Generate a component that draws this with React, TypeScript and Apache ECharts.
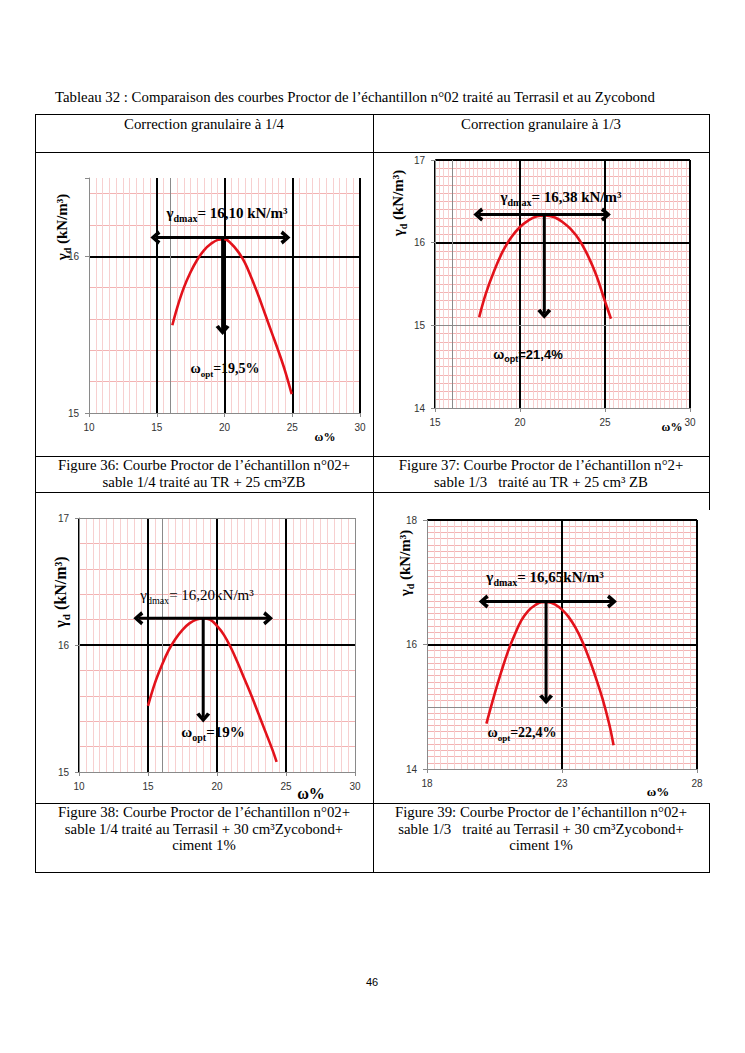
import React, { useEffect, useRef } from "react";
import * as echarts from "echarts";

// ---------- data ----------
const curve1X = [16.15, 16.5, 17, 17.5, 18, 18.5, 19, 19.5, 20, 20.5, 21, 21.5, 22, 22.5, 23, 23.5, 24, 24.5, 24.96];
const curve1Y = [15.56, 15.67, 15.8, 15.9, 15.98, 16.04, 16.08, 16.105, 16.11, 16.08, 16.03, 15.96, 15.86, 15.75, 15.63, 15.51, 15.39, 15.26, 15.12];
const curve2X = [17.6, 18, 18.5, 19, 19.5, 20, 20.5, 21, 21.5, 22, 22.5, 23, 23.5, 24, 24.5, 25, 25.35];
const curve2Y = [15.1, 15.39, 15.67, 15.9, 16.07, 16.19, 16.27, 16.32, 16.33, 16.31, 16.25, 16.16, 16.03, 15.84, 15.6, 15.29, 15.08];
const curve3X = [15, 15.5, 16, 16.5, 17, 17.5, 18, 18.5, 19, 19.5, 20, 20.5, 21, 21.5, 22, 22.5, 23, 23.5, 24, 24.32];
const curve3Y = [15.52, 15.7, 15.84, 15.96, 16.05, 16.12, 16.17, 16.2, 16.21, 16.2, 16.15, 16.08, 15.98, 15.86, 15.73, 15.6, 15.46, 15.32, 15.18, 15.08];
const curve4X = [20.2, 20.5, 20.75, 21, 21.25, 21.5, 21.75, 22, 22.25, 22.5, 22.75, 23, 23.25, 23.5, 23.75, 24, 24.25, 24.5, 24.75, 24.91];
const curve4Y = [14.73, 15.2, 15.56, 15.89, 16.16, 16.39, 16.54, 16.63, 16.68, 16.68, 16.64, 16.56, 16.44, 16.27, 16.05, 15.78, 15.47, 15.13, 14.72, 14.38];

const curvesX = [curve1X, curve2X, curve3X, curve4X];
const curvesY = [curve1Y, curve2Y, curve3Y, curve4Y];

// arrows: horizontal at gammaArrow from arrowLeft to arrowRight; vertical at wArrow down to arrowBottom
const gammaArrow = [16.12, 16.34, 16.21, 16.69];
const arrowLeft = [14.9, 17.55, 14.3, 20.1];
const arrowRight = [24.5, 25.05, 23.7, 24.85];
const wArrow = [19.86, 21.43, 19.0, 22.41];
const arrowBottom = [15.53, 15.14, 15.43, 15.12];

// axes
const xMin = [10, 15, 10, 18];
const xMax = [30, 30, 30, 28];
const xStep = [5, 5, 5, 5];
const xMinorStep = [0.5, 0.25, 0.5, 0.25];
const yMin = [15, 14, 15, 14];
const yMax = [16.5, 17, 17, 18];
const yStep = [1, 1, 1, 2];
const yMinorStep = [0.2, 0.1, 0.2, 0.1];

// thin grey reference lines
const grayX = [[16], [16], [16, 30], []];
const grayY = [[], [15], [17], [15]];

// annotation texts
const gammaLabels = ["= 16,10 kN/m³", "= 16,38 kN/m³", "= 16,20kN/m³", "= 16,65kN/m³"];
const wLabels = ["=19,5%", "=21,4%", "=19%", "=22,4%"];

const title = "Tableau 32 : Comparaison des courbes Proctor de l’échantillon n°02 traité au Terrasil et au Zycobond";
const headers = ["Correction granulaire à 1/4", "Correction granulaire à 1/3"];
const captions36 = ["Figure 36: Courbe Proctor de l’échantillon n°02+", "sable 1/4 traité au TR + 25 cm³ZB"];
const captions37 = ["Figure 37: Courbe Proctor de l’échantillon n°2+", "sable 1/3   traité au TR + 25 cm³ ZB"];
const captions38 = ["Figure 38: Courbe Proctor de l’échantillon n°02+", "sable 1/4 traité au Terrasil + 30 cm³Zycobond+", "ciment 1%"];
const captions39 = ["Figure 39: Courbe Proctor de l’échantillon n°02+", "sable 1/3   traité au Terrasil + 30 cm³Zycobond+", "ciment 1%"];

// ---------- layout / style ----------
const SERIF = '"Liberation Serif","Times New Roman",serif';
const SANS = '"Liberation Sans",Arial,sans-serif';
const K = "#000000";
const T = "rgba(0,0,0,0)";
const PINK_H = "#f3b3b3";
const PINK_V = "#f7d0d0";
const GRAY = "#8a8a8a";
const FS = 14.8;

const GRIDS = [
  { left: 89, top: 178, width: 271, height: 235 },
  { left: 435, top: 160, width: 255, height: 248 },
  { left: 79, top: 518, width: 276, height: 254 },
  { left: 427, top: 520, width: 270, height: 249 },
];
const xMajorColors = [[T, K, K, K, K], [K, K, K, K], [K, K, K, K, T], [T, K, K]];
const yMajorColors = [[T, K, T], [T, T, K, K], [T, K, T], [T, K, K]];

const CHEV = "path://M0,11L11,0L22,11L17,14L11,7L5,14Z";

function richText(x: number, y: number, a: string, s: string, b: string, size: number, weight: string, family: string, rotation = 0) {
  const ss = Math.round(size * 0.66);
  return {
    type: "text",
    x,
    y,
    rotation,
    z: 100,
    style: {
      text: `{a|${a}}{s|${s}}{a|${b}}`,
      align: "center",
      verticalAlign: "middle",
      rich: {
        a: { fontSize: size, fontWeight: weight, fontFamily: family, fill: "#000", lineHeight: size + 6, verticalAlign: "middle" },
        s: { fontSize: ss, fontWeight: weight, fontFamily: family, fill: "#000", lineHeight: ss, verticalAlign: "bottom" },
      },
    },
  };
}

function plainText(x: number, y: number, text: string, size: number, family = SERIF, weight = "normal", align = "center") {
  return {
    type: "text",
    x,
    y,
    z: 100,
    style: { text, fontSize: size, fontFamily: family, fontWeight: weight, fill: "#000", align, verticalAlign: "middle" },
  };
}

function hline(x1: number, x2: number, y: number) {
  return { type: "line", z: 100, shape: { x1, y1: y + 0.5, x2, y2: y + 0.5 }, style: { stroke: "#000", lineWidth: 1 } };
}
function vline(x: number, y1: number, y2: number) {
  return { type: "line", z: 100, shape: { x1: x + 0.5, y1, x2: x + 0.5, y2 }, style: { stroke: "#000", lineWidth: 1 } };
}

function buildOption() {
  const xAxis: any[] = [];
  const yAxis: any[] = [];
  const series: any[] = [];
  const labelStyle = { color: "#333", fontFamily: SANS, fontSize: 10 };

  for (let i = 0; i < 4; i++) {
    xAxis.push({
      gridIndex: i, type: "value", position: "bottom", min: xMin[i], max: xMax[i], interval: xMinorStep[i], z: 0,
      axisLine: { show: false }, axisTick: { show: false }, axisLabel: { show: false },
      splitLine: { show: true, showMinLine: false, showMaxLine: false, lineStyle: { color: PINK_V, width: 1 } },
    });
    xAxis.push({
      gridIndex: i, type: "value", position: "bottom", min: xMin[i], max: xMax[i], interval: xStep[i], z: 1,
      axisLine: { show: true, onZero: false, lineStyle: { color: GRAY, width: 1 } },
      axisTick: { show: true, length: 4, lineStyle: { color: GRAY } },
      axisLabel: { show: true, margin: 9, ...labelStyle },
      splitLine: { show: true, showMinLine: true, showMaxLine: true, lineStyle: { color: xMajorColors[i], width: 2 } },
    });
    yAxis.push({
      gridIndex: i, type: "value", position: "left", min: yMin[i], max: yMax[i], interval: yMinorStep[i], z: 0,
      axisLine: { show: false }, axisTick: { show: false }, axisLabel: { show: false },
      splitLine: { show: true, showMinLine: false, showMaxLine: false, lineStyle: { color: PINK_H, width: 1 } },
    });
    yAxis.push({
      gridIndex: i, type: "value", position: "left", min: yMin[i], max: yMax[i], interval: yStep[i], z: 1,
      axisLine: { show: true, onZero: false, lineStyle: { color: GRAY, width: 1 } },
      axisTick: { show: true, length: 4, lineStyle: { color: GRAY } },
      axisLabel: { show: true, margin: 10, ...labelStyle, formatter: (v: number) => (Number.isInteger(v) ? String(v) : "") },
      splitLine: { show: true, showMinLine: true, showMaxLine: true, lineStyle: { color: yMajorColors[i], width: 2 } },
    });

    const grayData: any[] = [];
    grayX[i].forEach((v) => grayData.push({ xAxis: v }));
    grayY[i].forEach((v) => grayData.push({ yAxis: v }));

    series.push({
      type: "line", xAxisIndex: 2 * i + 1, yAxisIndex: 2 * i + 1, z: 5,
      data: curvesX[i].map((x, k) => [x, curvesY[i][k]]),
      smooth: 0.4, showSymbol: false,
      lineStyle: { color: "#e3121b", width: 2.6 },
      markLine: {
        silent: true, symbol: ["none", "none"], label: { show: false },
        lineStyle: { color: GRAY, width: 1, type: "solid" },
        data: grayData,
      },
    });
    series.push({
      type: "line", xAxisIndex: 2 * i + 1, yAxisIndex: 2 * i + 1, z: 6,
      showSymbol: true, symbolSize: [14, 10],
      lineStyle: { color: "#000", width: 3 }, itemStyle: { color: "#000" },
      data: [
        { value: [arrowLeft[i], gammaArrow[i]], symbol: CHEV, symbolRotate: 90 },
        { value: [arrowRight[i], gammaArrow[i]], symbol: CHEV, symbolRotate: -90 },
      ],
    });
    series.push({
      type: "line", xAxisIndex: 2 * i + 1, yAxisIndex: 2 * i + 1, z: 6,
      showSymbol: true, symbolSize: [14, 10],
      lineStyle: { color: "#000", width: 3 }, itemStyle: { color: "#000" },
      data: [
        { value: [wArrow[i], gammaArrow[i]], symbol: "none" },
        { value: [wArrow[i], arrowBottom[i]], symbol: CHEV, symbolRotate: 180 },
      ],
    });
  }

  const graphic: any[] = [
    // table
    hline(35, 710, 114), hline(35, 710, 152), hline(35, 710, 456), hline(35, 710, 492),
    hline(35, 710, 803), hline(35, 710, 872),
    vline(35, 114, 873), vline(373, 114, 873), vline(709, 114, 510), vline(709, 803, 873),
    plainText(55, 97, title, FS, SERIF, "normal", "left"),
    plainText(204, 124, headers[0], FS),
    plainText(541, 124, headers[1], FS),
    plainText(204, 465, captions36[0], FS), plainText(204, 482, captions36[1], FS),
    plainText(541, 465, captions37[0], FS), plainText(541, 482, captions37[1], FS),
    plainText(204, 812, captions38[0], FS), plainText(204, 829, captions38[1], FS), plainText(204, 845, captions38[2], FS),
    plainText(541, 812, captions39[0], FS), plainText(541, 829, captions39[1], FS), plainText(541, 845, captions39[2], FS),
    plainText(372, 982, "46", 11, SANS),
    // axis names
    richText(62, 227, "γ", "d", " (kN/m³)", 15, "bold", SERIF, Math.PI / 2),
    richText(398, 203, "γ", "d", " (kN/m³)", 15, "bold", SERIF, Math.PI / 2),
    richText(60, 592, "γ", "d", " (kN/m³)", 16, "bold", SERIF, Math.PI / 2),
    richText(405, 563, "γ", "d", " (kN/m³)", 15, "bold", SERIF, Math.PI / 2),
    plainText(325, 437, "ω%", 12, SERIF, "bold"),
    plainText(672, 427, "ω%", 12, SERIF, "bold"),
    plainText(311, 793, "ω%", 16, SERIF, "bold"),
    plainText(658, 791, "ω%", 13, SERIF, "bold"),
    // annotations
    richText(227, 213, "γ", "dmax", gammaLabels[0], 15, "bold", SERIF),
    richText(561, 197, "γ", "dmax", gammaLabels[1], 15, "bold", SERIF),
    richText(197, 595, "γ", "dmax", gammaLabels[2], 15, "normal", SERIF),
    richText(545, 577, "γ", "dmax", gammaLabels[3], 15, "bold", SERIF),
    richText(225, 368, "ω", "opt", wLabels[0], 14, "bold", SERIF),
    richText(528, 354, "ω", "opt", wLabels[1], 13, "bold", SANS),
    richText(213, 732, "ω", "opt", wLabels[2], 15, "bold", SERIF),
    richText(522, 732, "ω", "opt", wLabels[3], 14, "bold", SERIF),
  ];

  return {
    animation: false,
    backgroundColor: "#ffffff",
    grid: GRIDS.map((g) => ({ ...g, containLabel: false, outerBoundsMode: "none", show: false })),
    xAxis,
    yAxis,
    series,
    graphic,
  };
}

export default function App() {
  const ref = useRef<HTMLDivElement>(null);
  useEffect(() => {
    const chart = echarts.init(ref.current as HTMLDivElement, null, { renderer: "svg" });
    chart.setOption(buildOption() as any);
    return () => chart.dispose();
  }, []);
  return (
    <div
      ref={ref}
      style={{ position: "absolute", left: 0, top: 0, width: 745, height: 1053, background: "#fff" }}
    />
  );
}
